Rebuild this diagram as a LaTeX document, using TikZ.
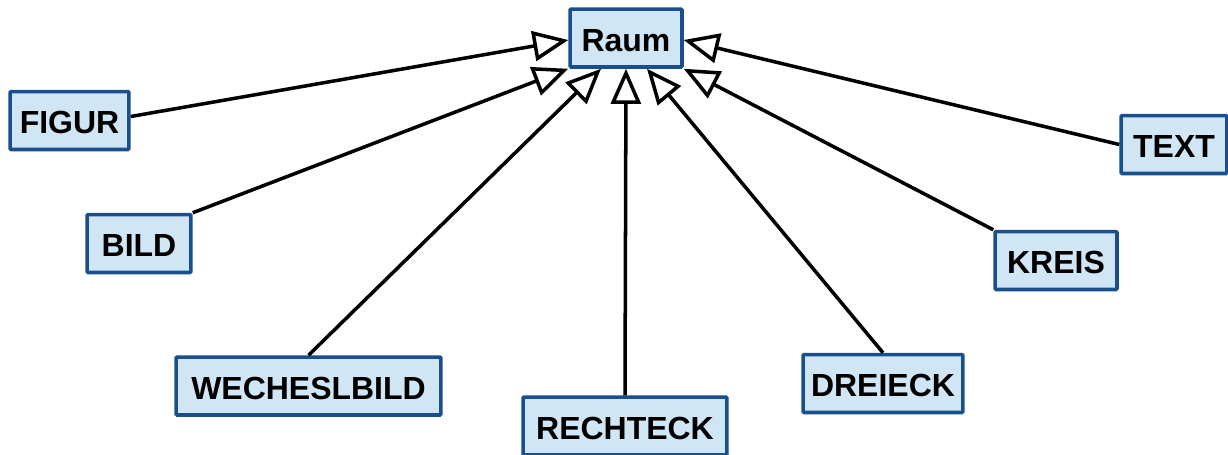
\documentclass[tikz,border=0pt]{standalone}
\usepackage{fontspec}
\setmainfont{Liberation Sans}
\usetikzlibrary{arrows.meta,calc}
\definecolor{boxfill}{HTML}{D0E6F4}
\definecolor{boxline}{HTML}{184F8C}
\tikzset{
  cls/.style={draw=boxline, fill=boxfill, line width=2pt, rounded corners=0.6pt,
    minimum height=1.16cm, inner sep=0pt, text height=15pt, text depth=0pt,
    font=\fontsize{18.2}{21}\selectfont\bfseries},
  inherit/.style={line width=2pt, -{Triangle[open,length=20pt,width=17pt,fill=white]}},
}
\begin{document}
\begin{tikzpicture}[x=0.02cm,y=-0.02cm]
\useasboundingbox (0,0) rectangle (1228,454);
\node[cls, minimum width=2.24cm] (raum) at (626,38) {Raum};
\node[cls, minimum width=2.38cm] (figur) at (69.5,120.5) {FIGUR};
\node[cls, minimum width=2.08cm] (bild) at (139,243.5) {BILD};
\node[cls, minimum width=5.30cm] (wbild) at (308.5,386) {WECHESLBILD};
\node[cls, minimum width=4.08cm] (recht) at (625,426) {RECHTECK};
\node[cls, minimum width=3.20cm] (drei) at (883,383.5) {DREIECK};
\node[cls, minimum width=2.44cm] (kreis) at (1056,260.5) {KREIS};
\node[cls, minimum width=2.12cm] (text) at (1174,144.5) {TEXT};

\draw[inherit] ($(figur.east)+(0,-4)$) -- ($(raum.west)+(0,2)$);
\draw[inherit] (bild.north east) -- (raum.south west);
\draw[inherit] (wbild.north) -- ($(raum.south)+(-25,0)$);
\draw[inherit] (recht.north) -- (raum.south);
\draw[inherit] (drei.north) -- ($(raum.south)+(21,0)$);
\draw[inherit] (kreis.north west) -- (raum.south east);
\draw[inherit] (text.west) -- ($(raum.east)+(0,2)$);
\end{tikzpicture}
\end{document}
